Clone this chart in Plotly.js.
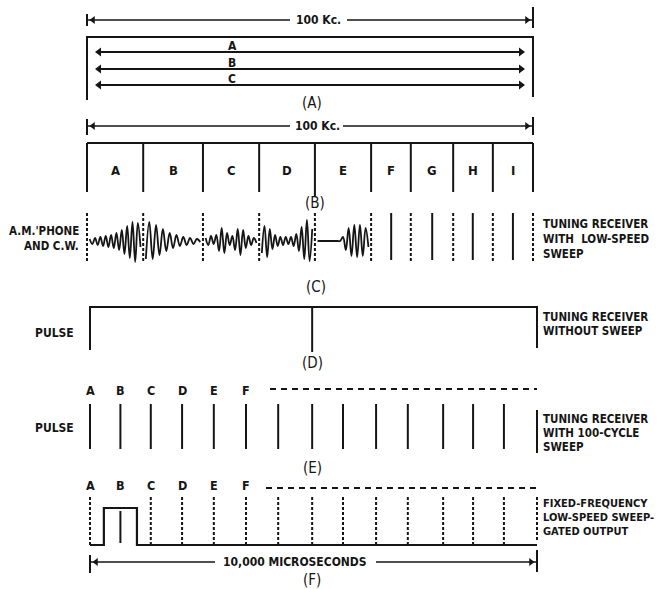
<!DOCTYPE html>
<html><head><meta charset="utf-8">
<script src="https://cdn.plot.ly/plotly-3.0.1.min.js"></script>
<style>html,body{margin:0;padding:0;background:#fff}#chart{width:659px;height:589px}</style>
</head><body><div id="chart"></div>
<script>
// ---------------- data ----------------
const spanKc = 100;                     // "100 Kc." band
const spanUs = 10000;                   // "10,000 MICROSECONDS"
const bandEdgesKc = [0, 12.6, 26.0, 38.6, 51.1, 63.7, 72.6, 82.1, 91.0, 100];
const bandLabels = ['A', 'B', 'C', 'D', 'E', 'F', 'G', 'H', 'I'];
const sweepLabelsA = ['A', 'B', 'C'];
const cwCarriersKc = [68.2, 77.4, 86.5, 95.5];          // C.W. signals in bands F..I
// A.M. phone envelopes in bands A..E (successive peak deflections)
const waveA = [2, -3, 3, -4, 4, -5, 5, -6, 6, -7, 8, -9, 11, -13, 15, -17, 19, -21, 18, -6];
const waveB = [-18, 19, -18, 16, -14, 12, -10, 8, -7, 6, -5, 4, -4, 3, -3, 2, -1];
const waveC = [3, -4, 5, -3, 6, -10, 13, -12, 8, -4, 5, -9, 12, -14, 11, -7, 5, -4, 3, -2];
const waveD = [-12, 15, -16, 12, -8, 6, -5, 4, -4, 4, -3, 4, -5, 7, -10, 14, -18, 21, -20, 12];
const waveE = [0, 0, 0, 0, 0, 0, 0, 0, 0, 4, -9, 13, -15, 16, -16, 16, -15, 13, -6];
const pulseTimesUs = [0, 680, 1360, 2060, 2770, 3490, 4210, 4970, 5660, 6400, 7110, 7900, 8570, 9260];
const pulseLabels = ['A', 'B', 'C', 'D', 'E', 'F'];
const singlePulseUs = 4970;
const gateEdgesUs = [310, 1050];

// ---------------- layout helpers ----------------
const BLACK = '#151515';
const FONT = '"DejaVu Sans Condensed", "Liberation Sans Narrow", "DejaVu Sans", sans-serif';
const PXKC = 4.46, X0KC = 87;       // kc axis: 0 kc at 87 px
const PXUS = 0.0447, X0US = 90;     // us axis: 0 us at 90 px
const W = 659, H = 589;
const Y = {dimA: 20, frameA: 37, frameAbot: 100, arrows: [52, 69, 85], labA: 103,
  dimB: 126, boxTop: 143, boxBot: 192, labB: 203,
  waveMid: 241, cTop: 213, cBot: 262, labC: 287,
  dTop: 307, dBot: 350, labD: 363,
  eLetters: 390, eTop: 404, eBot: 449, labE: 468,
  fLetters: 485, fTop: 497, fGate: 508, fBase: 545, dimF: 562, labF: 580};

const traces = [];
const annotations = [];
function line(xs, ys, o = {}) {
  traces.push({type: 'scatter', mode: 'lines', x: xs, y: ys, xaxis: o.xa || 'x', yaxis: 'y',
    line: {color: BLACK, width: o.w || 2, dash: o.dash || 'solid', shape: o.shape || 'linear', smoothing: o.smoothing || 1},
    hoverinfo: 'skip', showlegend: false, connectgaps: false});
}
function heads(xs, ys, syms, o = {}) {
  traces.push({type: 'scatter', mode: 'markers', x: xs, y: ys, xaxis: o.xa || 'x', yaxis: 'y',
    marker: {symbol: syms, size: o.size || 8, color: BLACK, line: {width: 0}},
    hoverinfo: 'skip', showlegend: false});
}
function verticals(xs, y0, y1, o = {}) {
  const X = [], Yv = [];
  xs.forEach(x => { X.push(x, x, null); Yv.push(y0, y1, null); });
  line(X, Yv, o);
}
function txt(x, y, s, o = {}) {
  annotations.push({x: x, y: y, xref: o.xa || 'x', yref: 'y', text: s, showarrow: false,
    xanchor: o.anchor || 'center', yanchor: 'middle',
    font: {family: FONT, size: o.size || 12, color: BLACK, weight: o.weight || 'bold'}});
}
const kcOf = px => (px - X0KC) / PXKC;
const usOf = px => (px - X0US) / PXUS;

// ---------------- (A) ----------------
function dimLine(y, gap0, gap1, t0, t1, xa, left, right) {
  line([left, gap0, null, gap1, right], [y, y, null, y, y], {xa: xa, w: 1.5});
  verticals([left], t0[0], t0[1], {xa: xa});
  verticals([right], t1[0], t1[1], {xa: xa});
}
dimLine(Y.dimA, kcOf(290), kcOf(347), [14, 26], [7, 28], 'x', 0, spanKc);
heads([kcOf(93), kcOf(527)], [Y.dimA, Y.dimA], ['triangle-left', 'triangle-right'], {size: 7});
txt(kcOf(318), Y.dimA, '100 Kc.', {size: 12});
line([0, 0, spanKc, spanKc], [Y.frameAbot, Y.frameA, Y.frameA, Y.frameAbot - 3]);
Y.arrows.forEach((y, i) => {
  line([kcOf(99), kcOf(521)], [y, y]);
  heads([kcOf(99), kcOf(521)], [y, y], ['triangle-left', 'triangle-right'], {size: 8});
  txt(kcOf(232), y - 6, sweepLabelsA[i], {size: 12});
});
txt(kcOf(312), Y.labA, '(A)', {size: 15, weight: 'normal'});

// ---------------- (B) ----------------
dimLine(Y.dimB, kcOf(290), kcOf(343), [119, 135], [117, 135], 'x', 0, spanKc);
heads([kcOf(93), kcOf(527)], [Y.dimB, Y.dimB], ['triangle-left', 'triangle-right'], {size: 7});
txt(kcOf(317), Y.dimB, '100 Kc.', {size: 12});
line([0, spanKc], [Y.boxTop, Y.boxTop]);
verticals(bandEdgesKc.filter((e, i) => i !== 4), Y.boxTop, Y.boxBot);
verticals([bandEdgesKc[4]], Y.boxTop, Y.boxBot + 5);
bandLabels.forEach((l, i) => txt((bandEdgesKc[i] + bandEdgesKc[i + 1]) / 2, 170, l, {size: 13}));
txt(kcOf(315), Y.labB, '(B)', {size: 15, weight: 'normal'});

// ---------------- (C) ----------------
txt(kcOf(81), 231, "A.M.'PHONE", {anchor: 'right', size: 11.5});
txt(kcOf(81), 246, 'AND C.W.', {anchor: 'right', size: 11.5});
verticals(bandEdgesKc, Y.cTop, Y.cBot, {dash: '3px,2px'});
verticals(cwCarriersKc, Y.cTop, Y.cBot - 2);
[waveA, waveB, waveC, waveD, waveE].forEach((w, b) => {
  const e0 = bandEdgesKc[b] + 0.6, e1 = bandEdgesKc[b + 1] - 0.6;
  const xs = w.map((_, k) => e0 + k * (e1 - e0) / (w.length - 1));
  const ys = w.map(a => Y.waveMid - a);
  line(xs, ys, {shape: 'spline', smoothing: 1.1, w: 1.8});
});
['TUNING RECEIVER', 'WITH  LOW-SPEED', 'SWEEP'].forEach((s, i) =>
  txt(kcOf(541), 224 + 15 * i, s, {anchor: 'left', size: 11.5}));
txt(kcOf(316), Y.labC, '(C)', {size: 15, weight: 'normal'});

// ---------------- (D) ----------------
txt(usOf(76), 333, 'PULSE', {xa: 'x2', anchor: 'right', size: 12});
line([0, 0, spanUs, spanUs], [Y.dBot, Y.dTop, Y.dTop, Y.dBot - 2], {xa: 'x2'});
verticals([singlePulseUs], Y.dTop, Y.dBot + 2, {xa: 'x2'});
['TUNING RECEIVER', 'WITHOUT SWEEP'].forEach((s, i) =>
  txt(usOf(541), 317 + 14 * i, s, {xa: 'x2', anchor: 'left', size: 11.5}));
txt(singlePulseUs, Y.labD, '(D)', {xa: 'x2', size: 15, weight: 'normal'});

// ---------------- (E) ----------------
pulseLabels.forEach((l, i) => txt(pulseTimesUs[i], Y.eLetters, l, {xa: 'x2', size: 12.5}));
line([usOf(270), spanUs], [Y.eLetters - 1, Y.eLetters - 1], {xa: 'x2', dash: '6px,5px', w: 1.8});
txt(usOf(76), 428, 'PULSE', {xa: 'x2', anchor: 'right', size: 12});
verticals(pulseTimesUs, Y.eTop, Y.eBot, {xa: 'x2'});
verticals([spanUs], 410, 453, {xa: 'x2'});
['TUNING RECEIVER', 'WITH 100-CYCLE', 'SWEEP'].forEach((s, i) =>
  txt(usOf(541), 419 + 14 * i, s, {xa: 'x2', anchor: 'left', size: 11.5}));
txt(singlePulseUs, Y.labE, '(E)', {xa: 'x2', size: 15, weight: 'normal'});

// ---------------- (F) ----------------
pulseLabels.forEach((l, i) => txt(pulseTimesUs[i], Y.fLetters, l, {xa: 'x2', size: 12.5}));
line([usOf(266), spanUs], [Y.fLetters + 3, Y.fLetters + 3], {xa: 'x2', dash: '6px,5px', w: 1.8});
verticals(pulseTimesUs.filter((t, i) => i !== 1), Y.fTop, Y.fBase, {xa: 'x2', dash: '3px,2px'});
verticals([pulseTimesUs[1]], Y.fGate + 3, Y.fBase - 2, {xa: 'x2'});
verticals([spanUs], Y.fTop, Y.fBase - 4, {xa: 'x2', dash: '3px,2px'});
line([0, gateEdgesUs[0], gateEdgesUs[0], gateEdgesUs[1], gateEdgesUs[1], spanUs],
     [Y.fBase, Y.fBase, Y.fGate, Y.fGate, Y.fBase, Y.fBase], {xa: 'x2', w: 2.2});
['FIXED-FREQUENCY', 'LOW-SPEED SWEEP-', 'GATED OUTPUT'].forEach((s, i) =>
  txt(usOf(541), 503 + 14 * i, s, {xa: 'x2', anchor: 'left', size: 11}));
dimLine(Y.dimF, usOf(215), usOf(376), [555, 573], [550, 572], 'x2', 0, spanUs);
heads([usOf(96), usOf(531)], [Y.dimF, Y.dimF], ['triangle-left', 'triangle-right'], {xa: 'x2', size: 7});
txt(usOf(295), Y.dimF, '10,000 MICROSECONDS', {xa: 'x2', size: 12});
txt(singlePulseUs, Y.labF, '(F)', {xa: 'x2', size: 15, weight: 'normal'});

// ---------------- render ----------------
const layout = {
  width: W, height: H, margin: {l: 0, r: 0, t: 0, b: 0, pad: 0},
  paper_bgcolor: '#fff', plot_bgcolor: '#fff', showlegend: false,
  xaxis: {range: [kcOf(0), kcOf(W)], visible: false, fixedrange: true},
  xaxis2: {range: [usOf(0), usOf(W)], visible: false, overlaying: 'x', fixedrange: true},
  yaxis: {range: [H, 0], visible: false, fixedrange: true},
  annotations: annotations
};
Plotly.newPlot('chart', traces, layout, {staticPlot: true, displayModeBar: false});
</script></body></html>
